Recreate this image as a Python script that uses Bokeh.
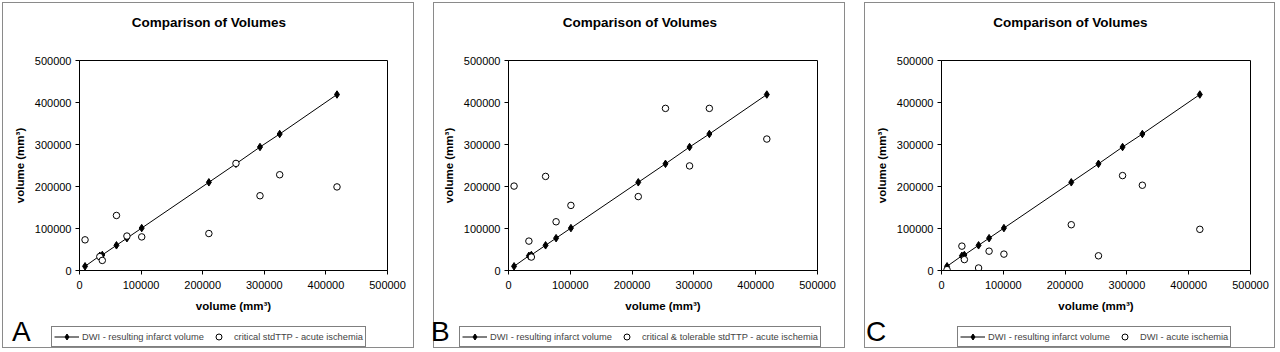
from bokeh.plotting import figure
from bokeh.models import Range1d, FixedTicker, PrintfTickFormatter, Legend, LegendItem, Div
from bokeh.layouts import row, column
from bokeh.embed import file_html
from bokeh.resources import INLINE

# ---- data ----
dwi_final_x = [9000, 33000, 37000, 60000, 77000, 101000, 210000, 254000, 293000, 325000, 418000]
dwi_final_y = [10000, 35000, 37000, 60000, 77000, 101000, 210000, 254000, 294000, 325000, 419000]
ttp_critical = [73000, 33000, 24000, 131000, 82000, 80000, 88000, 255000, 178000, 228000, 199000]
ttp_crit_tol = [201000, 70000, 32000, 224000, 116000, 155000, 176000, 386000, 249000, 386000, 313000]
dwi_acute = [2000, 58000, 26000, 6000, 46000, 39000, 109000, 35000, 226000, 203000, 98000]
ticks = [0, 100000, 200000, 300000, 400000, 500000]

title_text = "Comparison of Volumes"
axis_text = "volume (mm\u00b3)"
series1_label = "DWI - resulting infarct volume"
panel_letters = ["A", "B", "C"]
series2_labels = ["critical stdTTP - acute ischemia",
                  "critical & tolerable stdTTP - acute ischemia",
                  "DWI - acute ischemia"]
series2_values = [ttp_critical, ttp_crit_tol, dwi_acute]

FONT = "Liberation Sans"

specs = [
    dict(w=412, ml=76, mr=28, left=2, lx=12, lw=30, legm=9, legw=345),
    dict(w=412, ml=74, mr=29, left=17, lx=15, lw=24, legm=4, legw=380),
    dict(w=411, ml=76, mr=26, left=17, lx=19, lw=24, legm=67, legw=300),
]
H = 346


def style_axes(p):
    p.xgrid.visible = False
    p.ygrid.visible = False
    for ax in (p.xaxis[0], p.yaxis[0]):
        ax.ticker = FixedTicker(ticks=ticks)
        ax.formatter = PrintfTickFormatter(format="%d")
        ax.major_tick_out = 4
        ax.major_tick_in = 0
        ax.minor_tick_line_color = None
        ax.axis_line_color = "black"
        ax.major_tick_line_color = "black"
        ax.major_label_text_font = FONT
        ax.major_label_text_font_size = "11px"
        ax.major_label_text_color = "black"
        ax.axis_label = axis_text
        ax.axis_label_text_font = FONT
        ax.axis_label_text_font_size = "11.5px"
        ax.axis_label_text_font_style = "bold"
        ax.axis_label_text_color = "black"
    p.xaxis.major_label_standoff = 6
    p.xaxis.axis_label_standoff = 8
    p.yaxis.major_label_standoff = 4
    p.yaxis.axis_label_standoff = 6


def add_series(p, i, visible=True):
    r_line = p.line(dwi_final_x, dwi_final_y, line_color="black", line_width=1, visible=visible)
    r_dia = p.scatter(dwi_final_x, dwi_final_y, marker="diamond", size=7.5,
                      fill_color="black", line_color="black", visible=visible)
    r_circ = p.scatter(dwi_final_x, series2_values[i], marker="circle", size=6.5,
                       fill_color="white", fill_alpha=1, line_color="black", line_width=1,
                       visible=visible)
    return r_line, r_dia, r_circ


def make_panel(i):
    s = specs[i]
    p = figure(width=s["w"], height=H, output_backend="svg", toolbar_location=None,
               x_range=Range1d(0, 500000), y_range=Range1d(0, 500000),
               min_border_left=s["ml"], min_border_right=s["mr"],
               min_border_top=57, min_border_bottom=H - 57 - 210,
               background_fill_color="white", border_fill_color="white",
               outline_line_color="black", outline_line_width=1,
               margin=(2, 0, 0, s["left"]),
               styles={"border": "1px solid #8a8a8a"})
    style_axes(p)
    add_series(p, i)

    # title (real text) overlaid at the top of the panel box
    title = Div(text='<div style="font-family: \'Liberation Sans\'; font-size: 13.5px; '
                     'font-weight: bold; text-align: center; line-height: 18px; color: black; '
                     'width: %dpx;">%s</div>' % (s["w"] + 2, title_text),
                width=s["w"] + 2, height=18, margin=(16 - 350, 0, 0, s["left"]))

    # legend: a bokeh Legend in a small strip figure (hidden proxy renderers)
    lf = figure(width=s["legw"], height=22, output_backend="svg", toolbar_location=None,
                x_range=Range1d(0, 500000), y_range=Range1d(0, 500000),
                x_axis_type=None, y_axis_type=None, min_border=0,
                background_fill_color=None, border_fill_color=None,
                outline_line_color=None, margin=(10, 0, 0, s["legm"]))
    r_line, r_dia, r_circ = add_series(lf, i, visible=False)
    legend = Legend(items=[LegendItem(label=series1_label, renderers=[r_line, r_dia]),
                           LegendItem(label=series2_labels[i], renderers=[r_circ])],
                    orientation="horizontal", location="top_left",
                    border_line_color="black", border_line_width=1,
                    background_fill_color="white", background_fill_alpha=1,
                    inactive_fill_alpha=0,
                    label_text_font=FONT, label_text_font_size="9.3px",
                    glyph_width=25, glyph_height=15, label_standoff=3,
                    padding=2, spacing=2, margin=0, label_height=15)
    lf.add_layout(legend, "center")

    letter = Div(text='<span style="font-family: \'Liberation Sans\'; font-size: 28px; '
                      'line-height: 32px; color: black;">%s</span>' % panel_letters[i],
                 width=s["lw"], height=32, margin=(0, 0, 0, s["lx"]))
    bottom = row(letter, lf, spacing=0, margin=(318 - 34, 0, 0, 0))
    return column(p, title, bottom, spacing=0)


panels = [make_panel(i) for i in range(3)]
layout = row(*panels, spacing=0)
open("out.html", "w").write(file_html(layout, INLINE))
